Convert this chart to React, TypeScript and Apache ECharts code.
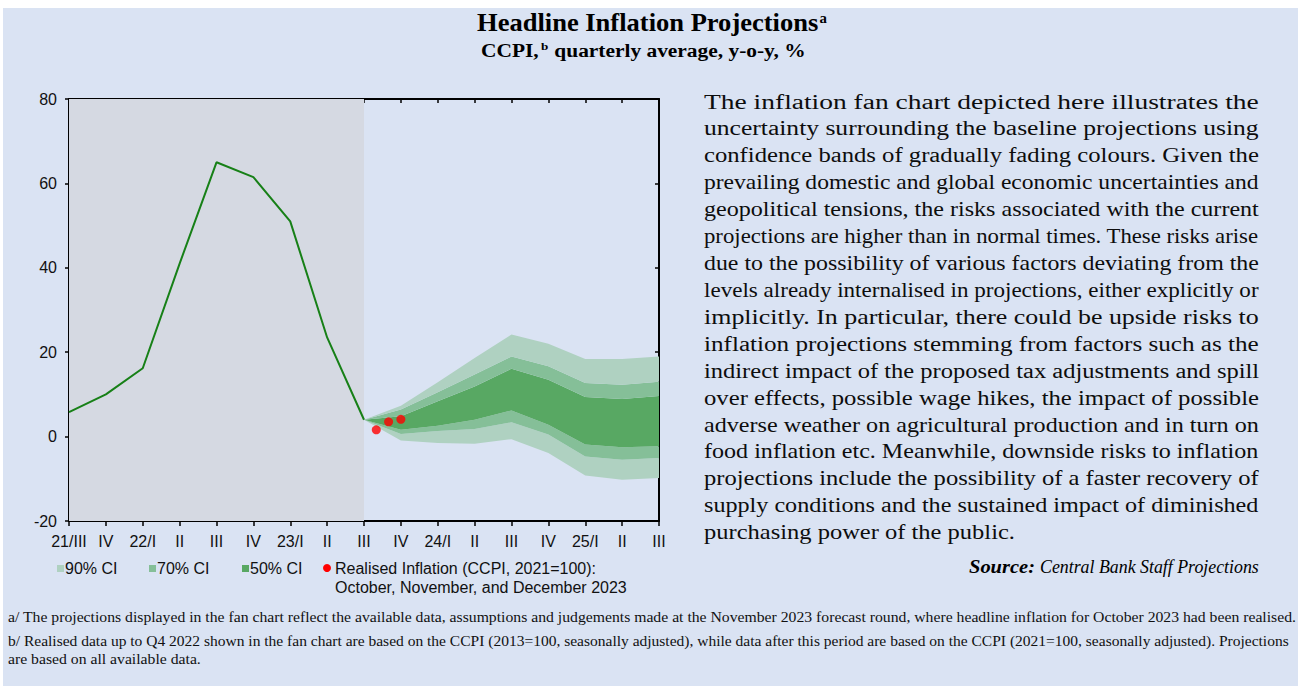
import React, { useEffect, useRef } from "react";
import * as echarts from "echarts";

const SERIF = "'Liberation Serif', 'Times New Roman', serif";
const SANS = "'Liberation Sans', Arial, sans-serif";

// ---- data ----
const quarterKeys = ["2021Q3", "2021Q4", "2022Q1", "2022Q2", "2022Q3", "2022Q4", "2023Q1", "2023Q2", "2023Q3", "2023Q4", "2024Q1", "2024Q2", "2024Q3", "2024Q4", "2025Q1", "2025Q2", "2025Q3"];
const quarterLabels = ["21/III", "IV", "22/I", "II", "III", "IV", "23/I", "II", "III", "IV", "24/I", "II", "III", "IV", "25/I", "II", "III"];
const headlineValues = [5.8, 10.0, 16.2, 41.0, 65.0, 61.5, 51.0, 23.5, 4.0];
const fanStartIndex = 8; // 23/III
const fanLower90 = [4.0, -0.9, -1.5, -1.7, -0.6, -3.9, -9.2, -10.2, -9.8];
const fanLower70 = [4.0, 0.6, 1.3, 1.8, 3.4, 0.5, -4.7, -5.5, -5.1];
const fanLower50 = [4.0, 1.6, 2.6, 4.0, 6.2, 2.8, -1.9, -2.5, -2.3];
const fanUpper50 = [4.0, 4.8, 8.4, 11.9, 16.1, 13.5, 9.4, 8.9, 9.6];
const fanUpper70 = [4.0, 6.4, 10.5, 14.7, 19.0, 16.7, 12.7, 12.3, 13.0];
const fanUpper90 = [4.0, 7.3, 12.9, 18.6, 24.2, 22.0, 18.4, 18.4, 19.0];
const realisedMonths = ["October 2023", "November 2023", "December 2023"];
const realisedValues = [1.6, 3.5, 4.1];
const yMin = -20;
const yMax = 80;
const yStep = 20;

const titleText = "Headline Inflation Projections";
const titleSup = "a";
const subtitleParts = ["CCPI,", "quarterly average, y-o-y, %"];
const subtitleSup = "b";
const legendLabels = ["90% CI", "70% CI", "50% CI"];
const realisedLegend = ["Realised Inflation (CCPI, 2021=100):", "October, November, and December 2023"];
const paragraphLines = [
  "The inflation fan chart depicted here illustrates the",
  "uncertainty surrounding the baseline projections using",
  "confidence bands of gradually fading colours. Given the",
  "prevailing domestic and global economic uncertainties and",
  "geopolitical tensions, the risks associated with the current",
  "projections are higher than in normal times. These risks arise",
  "due to the possibility of various factors deviating from the",
  "levels already internalised in projections, either explicitly or",
  "implicitly. In particular, there could be upside risks to",
  "inflation projections stemming from factors such as the",
  "indirect impact of the proposed tax adjustments and spill",
  "over effects, possible wage hikes, the impact of possible",
  "adverse weather on agricultural production and in turn on",
  "food inflation etc. Meanwhile, downside risks to inflation",
  "projections include the possibility of a faster recovery of",
  "supply conditions and the sustained impact of diminished",
  "purchasing power of the public.",
];
const sourceLabel = "Source:";
const sourceText = "Central Bank Staff Projections";
const footnoteA = "a/ The projections displayed in the fan chart reflect the available data, assumptions and judgements made at the November 2023 forecast round, where headline inflation for October 2023 had been realised.";
const footnoteB = [
  "b/ Realised data up to Q4 2022 shown in the fan chart are based on the CCPI (2013=100, seasonally adjusted), while data after this period are based on the CCPI (2021=100, seasonally adjusted). Projections",
  "are based on all available data.",
];

// ---- styles ----
const BG = "#dae3f3";
const SHADE = "#d5d9e2";
const LINE = "#178017";
const LIGHT = "#afd1c1";
const MID = "#85bf98";
const DARK = "#58a863";
const DOT = "#ff0000";

let measureCtx: CanvasRenderingContext2D | null = null;
function fontOf(size: number, weight = "normal", style = "normal", family = SERIF) {
  return `${style} ${weight} ${size}px ${family}`;
}
function measure(text: string, font: string): number {
  if (!measureCtx) measureCtx = document.createElement("canvas").getContext("2d");
  if (!measureCtx) return text.length * 8;
  measureCtx.font = font;
  return measureCtx.measureText(text).width;
}

type TOpt = { size: number; weight?: string; style?: string; family?: string; fill?: string; align?: string; sx?: number };
function textEl(text: string, x: number, y: number, o: TOpt) {
  const family = o.family || SERIF;
  return {
    type: "text",
    x,
    y,
    scaleX: o.sx ?? 1,
    silent: true,
    style: {
      text,
      fontSize: o.size,
      fontFamily: family,
      fontWeight: o.weight || "normal",
      fontStyle: o.style || "normal",
      fill: o.fill || "#000",
      align: o.align || "left",
      verticalAlign: "middle",
    },
  };
}
function scaleFor(text: string, targetW: number, o: TOpt) {
  const w = measure(text, fontOf(o.size, o.weight, o.style, o.family || SERIF));
  return w > 0 ? targetW / w : 1;
}

export default function App() {
  const ref = useRef<HTMLDivElement>(null);
  useEffect(() => {
    if (!ref.current) return;
    const chart = echarts.init(ref.current, undefined, { renderer: "svg" });

    const pad = (arr: number[]) => quarterKeys.map((_, i) => (i >= fanStartIndex && i - fanStartIndex < arr.length ? arr[i - fanStartIndex] : "-"));
    const bands = [
      { name: "90% CI", lo: fanLower90, hi: fanLower70, color: LIGHT },
      { name: "70% CI", lo: fanLower70, hi: fanLower50, color: MID },
      { name: "50% CI", lo: fanLower50, hi: fanUpper50, color: DARK },
      { name: "70% CI", lo: fanUpper50, hi: fanUpper70, color: MID },
      { name: "90% CI", lo: fanUpper70, hi: fanUpper90, color: LIGHT },
    ];

    const graphics: any[] = [];
    graphics.push({ type: "rect", shape: { x: 0, y: 0, width: 1298, height: 8 }, style: { fill: "#ffffff" }, silent: true });
    graphics.push({ type: "rect", shape: { x: 0, y: 0, width: 3, height: 686 }, style: { fill: "#ffffff" }, silent: true });

    // title (main + superscript), fitted to 477..827
    {
      const w1 = measure(titleText, fontOf(25, "bold"));
      const ws = measure(titleSup, fontOf(14, "bold"));
      const s = (827 - 477) / (w1 + 1 + ws);
      graphics.push(textEl(titleText, 477, 23, { size: 25, weight: "bold", sx: s }));
      graphics.push(textEl(titleSup, 477 + (w1 + 1) * s, 18, { size: 14, weight: "bold", sx: s }));
    }
    // subtitle, fitted to 481..806
    {
      const w1 = measure(subtitleParts[0], fontOf(18, "bold"));
      const ws = measure(subtitleSup, fontOf(11, "bold"));
      const w2 = measure(subtitleParts[1], fontOf(18, "bold"));
      const gap1 = 2;
      const gap2 = 5;
      const s = (806 - 481) / (w1 + gap1 + ws + gap2 + w2);
      graphics.push(textEl(subtitleParts[0], 481, 51, { size: 18, weight: "bold", sx: s }));
      graphics.push(textEl(subtitleSup, 481 + (w1 + gap1) * s, 46, { size: 11, weight: "bold", sx: s }));
      graphics.push(textEl(subtitleParts[1], 481 + (w1 + gap1 + ws + gap2) * s, 51, { size: 18, weight: "bold", sx: s }));
    }

    // paragraph (justified lines fitted to 704..1259)
    {
      const pO: TOpt = { size: 20, fill: "#0d0d0d" };
      const scales = paragraphLines.slice(0, -1).map((ln) => scaleFor(ln, 555, pO));
      const avg = scales.reduce((a, b) => a + b, 0) / scales.length;
      paragraphLines.forEach((ln, i) => {
        const sx = i < scales.length ? scales[i] : avg;
        graphics.push(textEl(ln, 704, 102 + i * 26.9, { ...pO, sx }));
      });
    }
    graphics.push(textEl(sourceLabel, 969, 567, { size: 18, weight: "bold", style: "italic", sx: scaleFor(sourceLabel, 66, { size: 18, weight: "bold", style: "italic" }) }));
    graphics.push(textEl(sourceText, 1040, 567, { size: 18, style: "italic", sx: scaleFor(sourceText, 219, { size: 18, style: "italic" }) }));

    // footnotes
    {
      const fO: TOpt = { size: 14, fill: "#111" };
      const sa = scaleFor(footnoteA, 1289, fO);
      graphics.push(textEl(footnoteA, 8, 617, { ...fO, sx: sa }));
      graphics.push(textEl(footnoteB[0], 8, 641, { ...fO, sx: scaleFor(footnoteB[0], 1282, fO) }));
      graphics.push(textEl(footnoteB[1], 8, 659, { ...fO, sx: sa }));
    }

    // legend
    const legendXs = [57, 149, 242];
    const legendColors = [LIGHT, MID, DARK];
    legendLabels.forEach((lb, i) => {
      graphics.push({ type: "rect", shape: { x: legendXs[i], y: 565, width: 7, height: 7 }, style: { fill: legendColors[i] }, silent: true });
      graphics.push(textEl(lb, legendXs[i] + 8, 568, { size: 16, family: SANS, fill: "#111" }));
    });
    graphics.push({ type: "circle", shape: { cx: 327, cy: 568, r: 4 }, style: { fill: DOT }, silent: true });
    graphics.push(textEl(realisedLegend[0], 335, 568, { size: 16, family: SANS, fill: "#111" }));
    graphics.push(textEl(realisedLegend[1], 335, 587, { size: 16, family: SANS, fill: "#111" }));

    const axisLineStyle = { color: "#000", width: 2 };

    const option: any = {
      animation: false,
      backgroundColor: BG,
      grid: { left: 69, right: 639, top: 99, bottom: 165, containLabel: false, outerBoundsMode: "none" },
      xAxis: [
        {
          type: "category",
          data: quarterKeys,
          boundaryGap: false,
          position: "bottom",
          axisLine: { show: true, onZero: false, lineStyle: axisLineStyle },
          axisTick: { show: true, inside: false, length: 5, interval: 0, lineStyle: { color: "#000", width: 1.5 } },
          axisLabel: {
            show: true,
            interval: 0,
            margin: 12,
            fontFamily: SANS,
            fontSize: 16,
            color: "#111",
            formatter: (_v: string, idx: number) => quarterLabels[idx] ?? "",
          },
          splitLine: { show: false },
        },
        {
          type: "category",
          data: quarterKeys,
          boundaryGap: false,
          position: "top",
          axisLine: { show: true, onZero: false, lineStyle: axisLineStyle },
          axisTick: { show: true, inside: true, length: 4, interval: 0, lineStyle: { color: "#000", width: 1.5 } },
          axisLabel: { show: false },
          splitLine: { show: false },
        },
        {
          type: "value",
          min: 0,
          max: quarterKeys.length - 1,
          show: false,
          position: "bottom",
          splitLine: { show: false },
        },
      ],
      yAxis: [
        {
          type: "value",
          min: yMin,
          max: yMax,
          interval: yStep,
          position: "left",
          axisLine: { show: true, onZero: false, lineStyle: axisLineStyle },
          axisTick: { show: true, inside: false, length: 4, lineStyle: { color: "#000", width: 1.5 } },
          axisLabel: { show: true, margin: 12, fontFamily: SANS, fontSize: 16, color: "#111" },
          splitLine: { show: false },
        },
        {
          type: "value",
          min: yMin,
          max: yMax,
          interval: yStep,
          position: "right",
          axisLine: { show: true, onZero: false, lineStyle: axisLineStyle },
          axisTick: { show: true, inside: true, length: 4, lineStyle: { color: "#000", width: 1.5 } },
          axisLabel: { show: false },
          splitLine: { show: false },
        },
      ],
      series: [
        {
          type: "line",
          name: "fan base",
          xAxisIndex: 0,
          yAxisIndex: 0,
          stack: "fan",
          stackStrategy: "all",
          data: pad(fanLower90),
          symbol: "none",
          lineStyle: { opacity: 0, width: 0 },
          silent: true,
          z: 2,
        },
        ...bands.map((b) => ({
          type: "line",
          name: b.name,
          xAxisIndex: 0,
          yAxisIndex: 0,
          stack: "fan",
          stackStrategy: "all",
          data: pad(b.hi.map((v, i) => +(v - b.lo[i]).toFixed(3))),
          symbol: "none",
          lineStyle: { opacity: 0, width: 0 },
          areaStyle: { color: b.color, opacity: 1 },
          silent: true,
          z: 2,
        })),
        {
          type: "line",
          name: "Headline inflation",
          xAxisIndex: 0,
          yAxisIndex: 0,
          data: quarterKeys.map((_, i) => (i < headlineValues.length ? headlineValues[i] : "-")),
          symbol: "none",
          lineStyle: { color: LINE, width: 2 },
          z: 3,
          markArea: {
            silent: true,
            itemStyle: { color: SHADE },
            data: [[{ xAxis: quarterKeys[0] }, { xAxis: quarterKeys[fanStartIndex] }]],
          },
        },
        {
          type: "scatter",
          name: realisedLegend[0],
          xAxisIndex: 2,
          yAxisIndex: 0,
          data: realisedValues.map((v, i) => ({ name: realisedMonths[i], value: [fanStartIndex + (i + 1) / 3, v] })),
          symbol: "circle",
          symbolSize: 9,
          itemStyle: { color: DOT },
          z: 5,
        },
      ],
      graphic: graphics,
    };
    chart.setOption(option);
    return () => chart.dispose();
  }, []);

  return <div ref={ref} style={{ position: "absolute", left: 0, top: 0, width: 1298, height: 686 }} />;
}
